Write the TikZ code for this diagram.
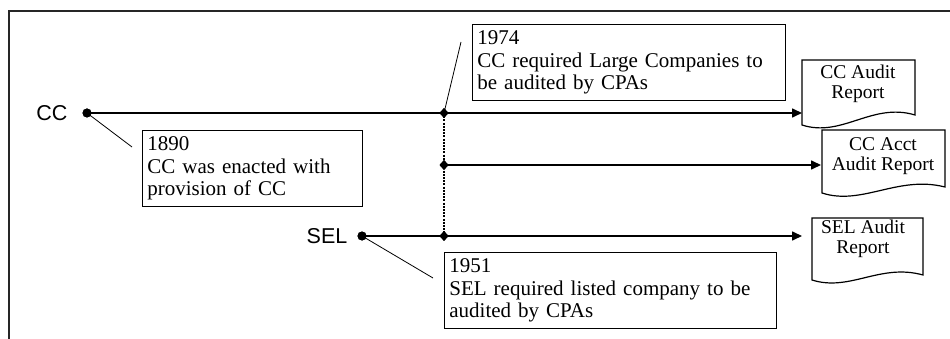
\documentclass[tikz,border=0pt]{standalone}
\usepackage{fontspec}
\setmainfont{Liberation Serif}
\newfontfamily\labelfont{Liberation Sans}
\usepackage{tikz}
\usetikzlibrary{arrows.meta,shapes.geometric}

\begin{document}
\begin{tikzpicture}[x=1pt,y=-1pt,
timeline/.style={line width=1.6pt,-{Triangle[length=10pt,width=9pt]}},
notebox/.style={draw,line width=0.8pt,anchor=north west,align=left,inner sep=5pt,
  minimum height=76pt,font=\fontsize{21}{22.5}\selectfont},
doctext/.style={align=center,inner sep=0pt,font=\fontsize{19.5}{20}\selectfont},
docshape/.style={draw,line width=1.2pt},
tdot/.style={circle,fill,inner sep=0pt,minimum size=9pt},
junction/.style={diamond,fill,inner sep=0pt,minimum width=9pt,minimum height=10pt},
linename/.style={font=\labelfont\fontsize{21.5}{21.5}\selectfont}]
\useasboundingbox (0,0) rectangle (950,339);
\draw[line width=2pt,black!85] (8.5,339) -- (8.5,11) -- (950,11);

\node[linename] (cc) at (52,113) {CC};
\node[linename] (sel) at (327,236) {SEL};
\node[tdot] (ccdot) at (87,113) {};
\node[tdot] (seldot) at (362,236) {};
\node[junction] (j1) at (444,113) {};
\node[junction] (j2) at (444,165) {};
\node[junction] (j3) at (444,236) {};

\node[notebox,text width=210pt] (n1890) at (142,130) {1890\\CC was enacted with\\provision of CC};
\node[notebox,text width=303pt] (n1974) at (472,24) {1974\\CC required Large Companies to\\be audited by CPAs};
\node[notebox,text width=322pt] (n1951) at (444,252) {1951\\SEL required listed company to be\\audited by CPAs};

\draw[docshape] (802,60) -- (915,60) -- (915,115) .. controls (872,102) and (842,138) .. (802,125) -- cycle;
\draw[docshape] (822,130) -- (945,130) -- (945,187) .. controls (898,175) and (862,206) .. (822,193) -- cycle;
\draw[docshape] (812,218) -- (923,218) -- (923,275) .. controls (880,263) and (850,292) .. (812,280) -- cycle;
\node[doctext] (ccrep) at (858,84) {CC Audit\\Report};
\node[doctext] (acctrep) at (883,156) {CC Acct\\Audit Report};
\node[doctext] (selrep) at (863,239) {SEL Audit\\Report};

\coordinate (ccend) at (802,113);
\coordinate (acctend) at (821,165);
\coordinate (selend) at (802,236);
\coordinate (l1890) at (132,147);
\coordinate (l1974) at (461,42);
\coordinate (l1951) at (433,278);

\draw[timeline] (ccdot.center) -- (ccend);
\draw[timeline] (j2.center) -- (acctend);
\draw[timeline] (seldot.center) -- (selend);
\draw[line width=1.6pt,dash pattern=on 2pt off 1.2pt] (j1.center) -- (j3.center);
\draw[line width=0.8pt] (ccdot.center) -- (l1890);
\draw[line width=0.8pt] (j1.center) -- (l1974);
\draw[line width=0.8pt] (seldot.center) -- (l1951);
\node[tdot] at (ccdot) {};
\node[tdot] at (seldot) {};
\node[junction] at (j1) {};
\node[junction] at (j2) {};
\node[junction] at (j3) {};
\end{tikzpicture}
\end{document}
